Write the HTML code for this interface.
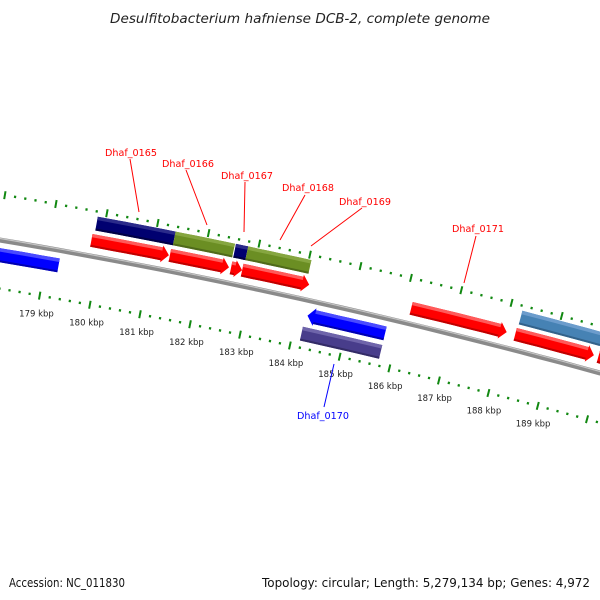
<!DOCTYPE html>
<html><head><meta charset="utf-8"><style>
html,body{margin:0;padding:0;background:#fff;}
svg{display:block;font-family:"DejaVu Sans","Liberation Sans",sans-serif;}
</style></head><body>
<svg id="map" width="600" height="600" viewBox="0 0 600 600" xmlns="http://www.w3.org/2000/svg">
<rect width="600" height="600" fill="#fff"/>
<text x="110" y="23" textLength="380" lengthAdjust="spacingAndGlyphs" font-size="13" font-style="italic" fill="#222">Desulfitobacterium hafniense DCB-2, complete genome</text>
<g id="ticks"></g>
<g id="backbone"></g>
<g id="genes"></g>
<g id="labels"></g>
<text x="9" y="587" textLength="116" lengthAdjust="spacingAndGlyphs" font-size="12" fill="#111">Accession: NC_011830</text>
<text x="262" y="587" textLength="328" lengthAdjust="spacingAndGlyphs" font-size="12" fill="#111">Topology: circular; Length: 5,279,134 bp; Genes: 4,972</text>
</svg>
<script>
// ---- data ----
const tickStart = 177.6;
const tickEnd = 191.4;
const labelKbp = [179,180,181,182,183,184,185,186,187,188,189];
const geneNames = ["left-blue","Dhaf_0165","Dhaf_0166","Dhaf_0167","Dhaf_0168","red-1","red-2","red-3","Dhaf_0169","Dhaf_0171","red-6","red-7","steelblue","purple-right","Dhaf_0170","Dhaf_0170-b"];
const geneStart = [177.0,179.84,181.37,182.56,182.80,179.80,181.35,182.56,182.78,186.14,188.22,189.89,188.24,189.91,184.21,184.17];
const geneEnd   = [179.26,181.37,182.54,182.80,184.05,181.33,182.52,182.78,184.11,188.05,189.80,191.5,189.86,191.5,185.76,185.76];
const geneTrack = ["R1","F2","F2","F2","F2","F1","F1","F1","F1","F1","F1","F1","F2","F2","R1","R2"];
const geneColor = ["blue","navy","olive","navy","olive","red","red","red","red","red","red","red","steel","purple","blue","purple"];
const geneArrow = ["none","none","none","none","none","end","end","end","end","end","end","end","none","none","start","none"];

// ---- geometry ----
const CX=-1013.4, CY=6231.5, R=6076.6;
const DEG=Math.PI/180;
function ang(k){return (-79.94+(k-179)*0.485)*DEG;}
function pt(k,r){const a=ang(k);return [CX+r*Math.cos(a),CY+r*Math.sin(a)];}
const tracks={F1:[R+9,R+22],F2:[R+26,R+40],R1:[R-8,R-22],R2:[R-27,R-41]};
const palette={
 red:["#ff0000","#ff5a5a","#c00000"],
 navy:["#000070","#2a2a8a","#000045"],
 olive:["#6b8e23","#86a640","#4f6a1a"],
 blue:["#0000ff","#4a4aff","#0000b0"],
 purple:["#483d8b","#6e64aa","#332b66"],
 steel:["#4682b4","#6c9ccc","#33628a"]
};
const NS="http://www.w3.org/2000/svg";
function mk(tag,attrs,parent){const e=document.createElementNS(NS,tag);for(const k in attrs)e.setAttribute(k,attrs[k]);parent.appendChild(e);return e;}
function arcPts(k1,k2,r,n){const a=[];for(let i=0;i<=n;i++){a.push(pt(k1+(k2-k1)*i/n,r));}return a;}
function poly(pts){return pts.map(p=>p[0].toFixed(1)+","+p[1].toFixed(1)).join(" ");}

// backbone
const bb=document.getElementById('backbone');
const bbPts=arcPts(176,192,R,40);
let d="M"+bbPts.map(p=>p[0].toFixed(1)+" "+p[1].toFixed(1)).join(" L");
const bbLine=mk('path',{d:d,stroke:"#8a8a8a","stroke-width":"5",fill:"none"},bb);


const bbHi=mk('path',{d:"M"+arcPts(176,192,R+1.5,40).map(p=>p[0].toFixed(1)+" "+p[1].toFixed(1)).join(" L"),stroke:"#c4c4c4","stroke-width":"1.2",fill:"none"},bb);



// ticks
const tg=document.getElementById('ticks');
const nT=Math.round((tickEnd-tickStart)/0.2);
for(let i=0;i<=nT;i++){
  const k=Math.round((tickStart+i*0.2)*10)/10;
  const major=Math.abs(k-Math.round(k))<0.01;
  [[R+45,"upper"],[R-48,"lower"]].forEach(([r,w])=>{
    const h=major?4:1.2;
    const p1=pt(k,r-h),p2=pt(k,r+h);
    const t=mk('line',{x1:p1[0],y1:p1[1],x2:p2[0],y2:p2[1],stroke:"#118811","stroke-width":major?2:2.2},tg);
    
    
  });
}
labelKbp.forEach(k=>{
  const p=pt(k,R-66);
  const t=mk('text',{x:p[0].toFixed(1),y:(p[1]+3).toFixed(1),"text-anchor":"middle","font-size":"8.5",fill:"#222"},tg);
  t.textContent=k+" kbp";
  
  
});

// genes
const gg=document.getElementById('genes');
const AH=0.14;
geneNames.forEach((name,i)=>{
  const [ra,rb]=tracks[geneTrack[i]];
  const rIn=Math.min(ra,rb), rOut=Math.max(ra,rb);
  const k1=geneStart[i],k2=geneEnd[i];
  const col=palette[geneColor[i]];
  const g=mk('g',{},gg);
  
  
  let outline;
  const mid=(rIn+rOut)/2;
  if(geneArrow[i]==="end"){
    const kb=k2-AH;
    outline=arcPts(k1,kb,rOut,6).concat([pt(kb,rOut+2),pt(k2,mid),pt(kb,rIn-2)]).concat(arcPts(kb,k1,rIn,6));
  } else if(geneArrow[i]==="start"){
    const kb=k1+AH;
    outline=[pt(k1,mid),pt(kb,rOut+2)].concat(arcPts(kb,k2,rOut,6)).concat(arcPts(k2,kb,rIn,6)).concat([pt(kb,rIn-2)]);
  } else {
    outline=arcPts(k1,k2,rOut,6).concat(arcPts(k2,k1,rIn,6));
  }
  const body=mk('polygon',{points:poly(outline),fill:col[0]},g);
  
  
  const hs=geneArrow[i]==="start"?k1+AH:k1, he=geneArrow[i]==="end"?k2-AH:k2;
  const hi=mk('polygon',{points:poly(arcPts(hs,he,rOut,6).concat(arcPts(he,hs,rOut-(rOut-rIn)*0.25,6))),fill:col[1]},g);
  
  
  const sh=mk('polygon',{points:poly(arcPts(hs,he,rIn+2,6).concat(arcPts(he,hs,rIn,6))),fill:col[2]},g);
  
  
});

// gene labels
const lg=document.getElementById('labels');
const labelNames=["Dhaf_0165","Dhaf_0166","Dhaf_0167","Dhaf_0168","Dhaf_0169","Dhaf_0171","Dhaf_0170"];
const labelText=[[131,156],[188,167],[247,179],[308,191],[365,205],[478,232],[323,419]];
const labelLine=[[130,159,139,212],[186,170,207,225],[245,182,244,232],[305,195,280,240],[362,208,311,246],[476,236,464,283],[334,364,324,407]];
labelNames.forEach((n,i)=>{
  const col=n==="Dhaf_0170"?"#0000ff":"#ff0000";
  const c=labelLine[i];
  const l=mk('line',{x1:c[0],y1:c[1],x2:c[2],y2:c[3],stroke:col,"stroke-width":"1"},lg);
  
  
  const t=mk('text',{x:labelText[i][0]-26,y:labelText[i][1],textLength:"52",lengthAdjust:"spacingAndGlyphs","font-size":"10",fill:col},lg);
  t.textContent=n;
  
  
});
</script>
</body></html>
